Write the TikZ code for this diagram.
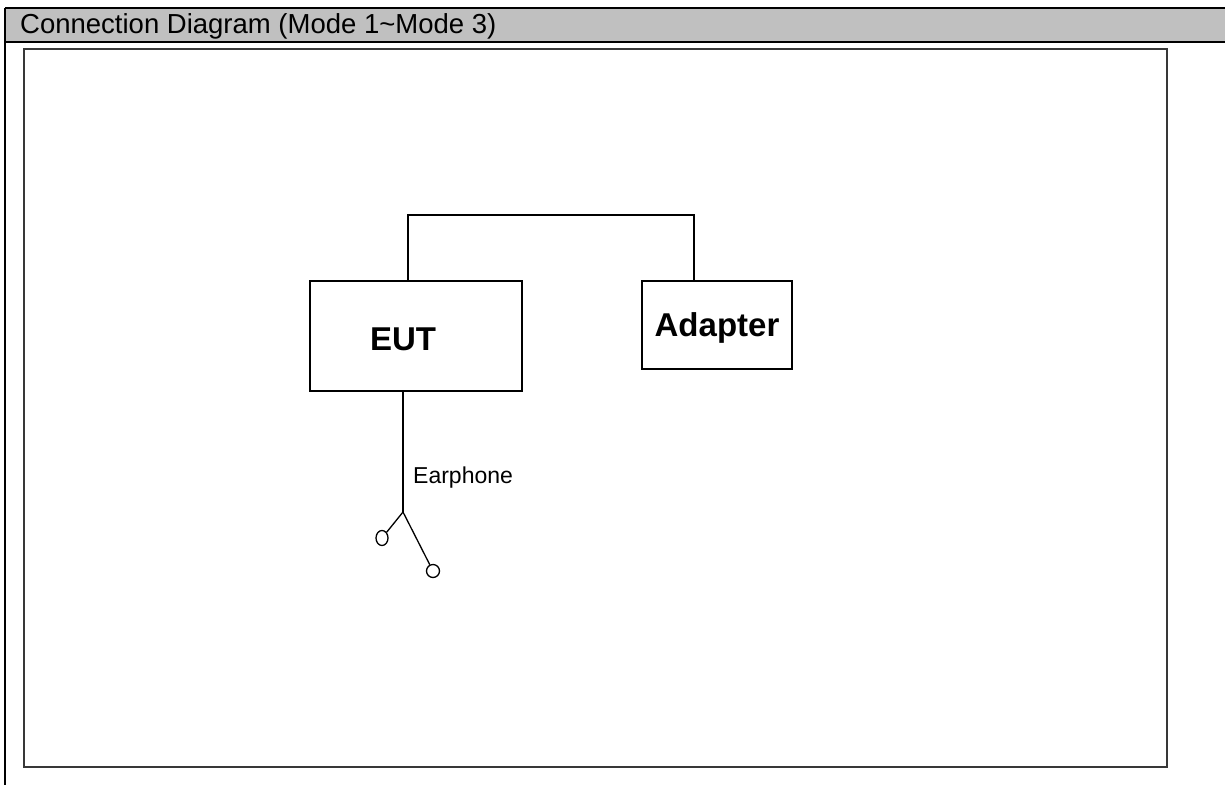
\documentclass[tikz,border=0pt]{standalone}
\usepackage{fontspec}
\setmainfont{Liberation Sans}
\usetikzlibrary{shapes.geometric}
\definecolor{headgray}{HTML}{C0C0C0}
\definecolor{framegray}{HTML}{383838}

\begin{document}
\begin{tikzpicture}[x=1pt,y=-1pt,
		box/.style={draw, line width=1.6pt, inner sep=0pt, text depth=0pt, font=\fontsize{33}{36}\selectfont\bfseries},
		wire/.style={line width=1.6pt},
		bud/.style={draw, line width=1.3pt, inner sep=0pt}]
	\useasboundingbox (0,0) rectangle (1225,785);
	% title bar
	\fill[headgray] (5,8) rectangle (1225,42);
	\draw[line width=2.5pt] (5,8) -- (1225,8);
	\draw[line width=2.5pt] (5,42) -- (1225,42);
	\draw[line width=2pt] (5,8) -- (5,785);
	\node[anchor=base west, inner sep=0pt, font=\fontsize{27.5}{30}\selectfont] (title) at (20,33) {Connection Diagram (Mode 1\textasciitilde Mode 3)};
	\draw[framegray, line width=2pt] (24,49) rectangle (1167,767);
	% units
	\node[box, minimum width=212, minimum height=110,
		label={[font=\fontsize{33}{36}\selectfont\bfseries, xshift=-13pt, yshift=-3pt]center:EUT}] (eut) at (416,336) {};
	\node[box, minimum width=150, minimum height=88] (adapter) at (717,325) {Adapter};
	\draw[wire] ([xshift=-8pt]eut.north) -- ++(0,-65) -| ([xshift=-23pt]adapter.north);
	% earphone
	\coordinate (split) at (403,512);
	\node[bud, ellipse, minimum width=12, minimum height=15] (budL) at (382,538) {};
	\node[bud, circle, minimum size=13] (budR) at (433,571) {};
	\draw[wire] ([xshift=-13pt]eut.south) -- (split);
	\draw[line width=1.3pt] (split) -- (budL);
	\draw[line width=1.3pt] (split) -- (budR);
	\node[anchor=base west, inner sep=0pt, font=\fontsize{23}{25}\selectfont] (earphone) at (413,483) {Earphone};
\end{tikzpicture}
\end{document}
